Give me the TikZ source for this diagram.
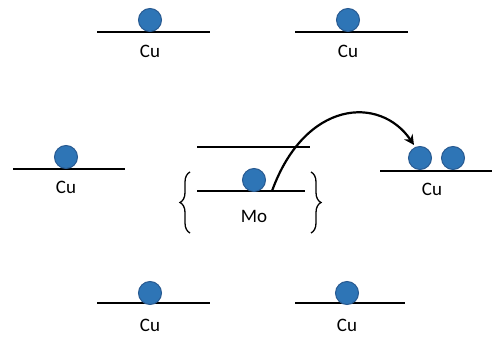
\documentclass[tikz,border=0pt]{standalone}
\usepackage{fontspec}
\setmainfont{Carlito}
\usetikzlibrary{arrows.meta,decorations.pathreplacing}
\definecolor{atomfill}{RGB}{46,117,182}
\definecolor{atomedge}{RGB}{40,90,145}
\tikzset{
  atom/.style={circle,fill=atomfill,draw=atomedge,line width=1pt,minimum size=23pt,inner sep=0pt},
  surf/.style={line width=2.8pt,black},
  lbl/.style={font=\fontsize{19}{21}\selectfont,inner sep=0pt},
  bracestyle/.style={decorate,decoration={brace,amplitude=10pt},line width=1.3pt}
}
\begin{document}
\begin{tikzpicture}[x=1pt,y=-1pt]
\useasboundingbox (0,0) rectangle (492,342);
% top left
\coordinate (tlA) at (97,32); \coordinate (tlB) at (210,32);
\draw[surf] (tlA) -- (tlB);
\node[atom] (tlatom) at (150,20) {};
\node[lbl] (tllbl) at (150,51) {Cu};
% top right
\coordinate (trA) at (295,32); \coordinate (trB) at (408,32);
\draw[surf] (trA) -- (trB);
\node[atom] (tratom) at (348,20) {};
\node[lbl] (trlbl) at (348,51) {Cu};
% middle left
\coordinate (mlA) at (13,169); \coordinate (mlB) at (125,169);
\draw[surf] (mlA) -- (mlB);
\node[atom] (mlatom) at (66,157) {};
\node[lbl] (mllbl) at (66,187) {Cu};
% middle Mo
\coordinate (muA) at (197,147); \coordinate (muB) at (310,147);
\draw[surf] (muA) -- (muB);
\coordinate (moA) at (197,191); \coordinate (moB) at (305,191);
\draw[surf] (moA) -- (moB);
\node[atom] (moatom) at (254,180) {};
\node[lbl] (molbl) at (254,216) {Mo};
\coordinate (lbTop) at (190,172); \coordinate (lbBot) at (190,233);
\draw[bracestyle] (lbBot) -- (lbTop);
\coordinate (rbTop) at (311,172); \coordinate (rbBot) at (311,233);
\draw[bracestyle] (rbTop) -- (rbBot);
% middle right
\coordinate (mrA) at (380,171); \coordinate (mrB) at (492,171);
\draw[surf] (mrA) -- (mrB);
\node[atom] (mratomA) at (420,158) {};
\node[atom] (mratomB) at (453,158) {};
\node[lbl] (mrlbl) at (432,189) {Cu};
% arrow
\coordinate (arrS) at (272,191);
\coordinate (arrE) at (414,145);
\draw[line width=2.2pt,-{Stealth[length=10pt,width=10pt]}] (arrS) .. controls (305,100) and (380,95) .. (arrE);
% bottom left
\coordinate (blA) at (97,303); \coordinate (blB) at (210,303);
\draw[surf] (blA) -- (blB);
\node[atom] (blatom) at (150,293) {};
\node[lbl] (bllbl) at (150,325) {Cu};
% bottom right
\coordinate (brA) at (295,303); \coordinate (brB) at (405,303);
\draw[surf] (brA) -- (brB);
\node[atom] (bratom) at (347,293) {};
\node[lbl] (brlbl) at (347,325) {Cu};
\end{tikzpicture}
\end{document}
